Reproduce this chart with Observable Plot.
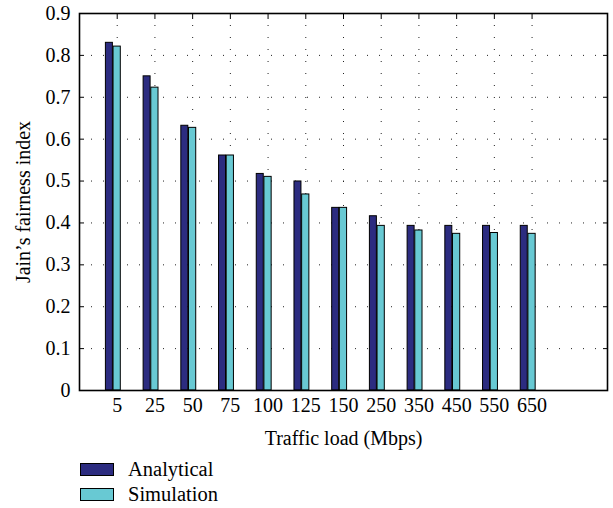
<!DOCTYPE html>
<html><head><meta charset="utf-8">
<script src="https://cdn.jsdelivr.net/npm/d3@7"></script>
<script src="https://cdn.jsdelivr.net/npm/@observablehq/plot@0.6"></script>
<style>
body{margin:0;background:#fff;font-family:"Liberation Serif",serif;}
#legend{margin-left:80px;font-size:20.5px;color:#000}
.row{display:flex;align-items:center;height:25px}
.sw{width:32px;height:11px;border:1.5px solid #000;margin-right:14px}
</style></head><body><div id="chart"></div><div id="legend"></div>
<script>
const loads = ["5","25","50","75","100","125","150","250","350","450","550","650"];
const analytical = [0.830,0.750,0.632,0.561,0.517,0.499,0.436,0.416,0.393,0.393,0.393,0.393];
const simulation = [0.821,0.723,0.627,0.561,0.510,0.468,0.436,0.393,0.382,0.374,0.376,0.374];
const yTicks = [0,0.1,0.2,0.3,0.4,0.5,0.6,0.7,0.8,0.9];
const series = ["Analytical","Simulation"];
const colors = ["#2c2c80","#68c9d3"];

const xTicks = loads.map((_, k) => k + 1);
const offsets = {Analytical: [-0.30, -0.115], Simulation: [-0.097, 0.095]};
const rows = [];
loads.forEach((l, k) => {
  rows.push({i: k + 1, load: l, series: "Analytical", value: analytical[k]});
  rows.push({i: k + 1, load: l, series: "Simulation", value: simulation[k]});
});
const fmt = i => loads[i - 1];

const chart = Plot.plot({
  width: 613,
  height: 457,
  marginLeft: 79,
  marginRight: 6,
  marginTop: 13,
  marginBottom: 67,
  style: {fontFamily: "Liberation Serif, serif", fontSize: "20px", color: "#000", background: "#fff"},
  x: {type: "linear", domain: [0, 14]},
  y: {domain: [0, 0.9]},
  color: {domain: series, range: colors},
  marks: [
    Plot.gridX(xTicks, {stroke: "#222", strokeOpacity: 1, strokeDasharray: "1,11"}),
    Plot.gridY(yTicks, {stroke: "#222", strokeOpacity: 1, strokeDasharray: "1,11"}),
    Plot.axisX(xTicks, {anchor: "bottom", tickSize: 5, dy: -5, text: null, label: null}),
    Plot.rect(rows, {
      x1: d => d.i + offsets[d.series][0],
      x2: d => d.i + offsets[d.series][1],
      y1: 0, y2: "value",
      fill: "series", stroke: "#000", strokeWidth: 1
    }),
    Plot.axisX(xTicks, {anchor: "top", tickSize: 5, dy: 5, text: null, label: null}),
    Plot.axisY(yTicks, {anchor: "left", tickSize: 5, dx: 5, text: null, label: null}),
    Plot.axisY(yTicks, {anchor: "right", tickSize: 5, dx: -5, text: null, label: null}),
    Plot.axisX(xTicks, {anchor: "bottom", tickSize: 0, tickPadding: 7, tickFormat: fmt,
      label: "Traffic load (Mbps)", labelAnchor: "center", labelArrow: "none", labelOffset: 54}),
    Plot.axisY(yTicks, {anchor: "left", tickSize: 0, tickPadding: 9, tickFormat: d => d === 0 ? "0" : d3.format(".1f")(d),
      label: "Jain’s fairness index", labelAnchor: "center", labelArrow: "none", labelOffset: 64}),
    Plot.frame({stroke: "#000", strokeWidth: 1.6})
  ]
});
document.getElementById("chart").appendChild(chart);

const legend = document.getElementById("legend");
series.forEach((s, k) => {
  const row = document.createElement("div");
  row.className = "row";
  const sw = document.createElement("div");
  sw.className = "sw";
  sw.style.background = colors[k];
  const t = document.createElement("span");
  t.textContent = s;
  row.appendChild(sw); row.appendChild(t);
  legend.appendChild(row);
});
</script></body></html>
